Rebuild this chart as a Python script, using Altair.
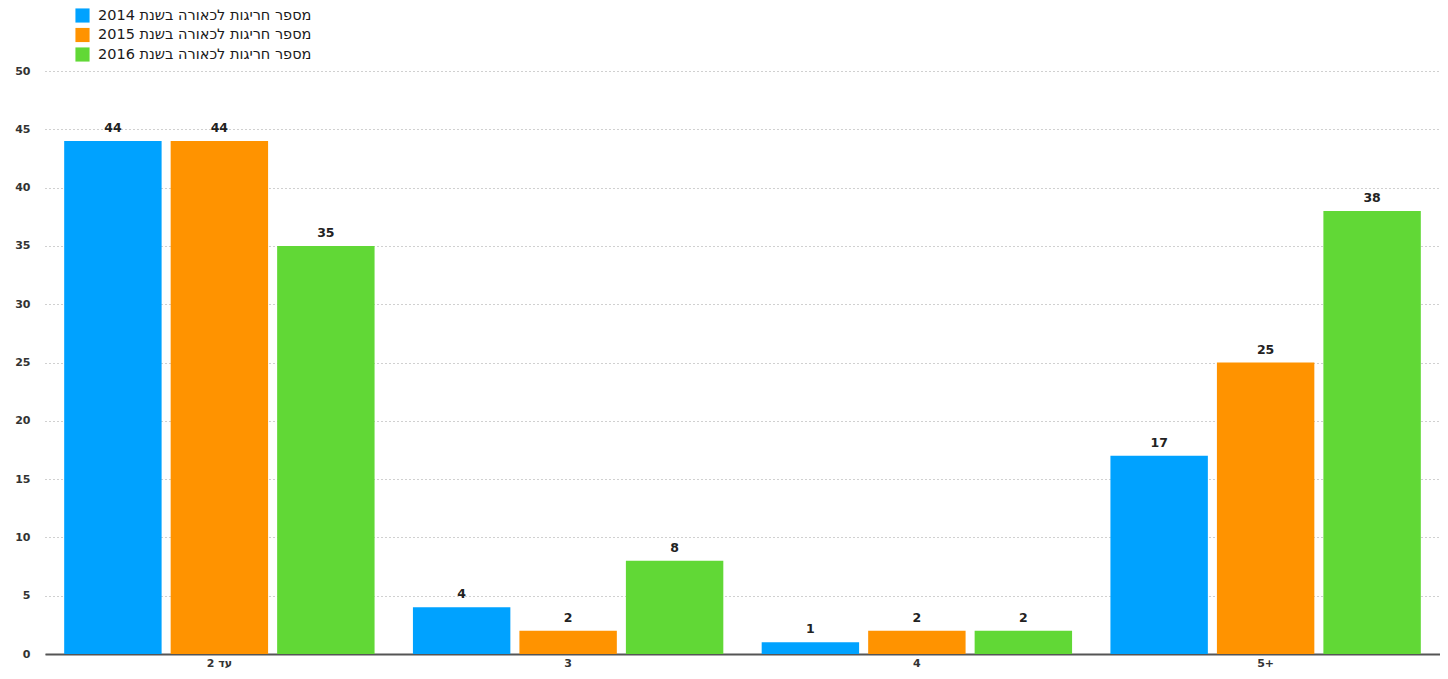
import altair as alt
import pandas as pd

categories = ["עד 2", "3", "4", "5+"]
series = ["מספר חריגות לכאורה בשנת 2014", "מספר חריגות לכאורה בשנת 2015", "מספר חריגות לכאורה בשנת 2016"]
values_2014 = [44, 4, 1, 17]
values_2015 = [44, 2, 2, 25]
values_2016 = [35, 8, 2, 38]
colors = ["#00A2FF", "#FF9300", "#61D836"]

rows = []
for s, vals in zip(series, [values_2014, values_2015, values_2016]):
    for c, v in zip(categories, vals):
        rows.append({"category": c, "series": s, "value": v})
df = pd.DataFrame(rows)

FONT = "'DejaVu Sans', sans-serif"

x = alt.X("category:N", sort=categories, title=None,
          scale=alt.Scale(paddingInner=0.11, paddingOuter=0.055),
          axis=alt.Axis(labelAngle=0, ticks=False, domainColor="#555555", domainWidth=2,
                        labelFontSize=11, labelFontWeight="bold", labelColor="#333333",
                        labelPadding=3, labelFont=FONT, grid=False))
xo = alt.XOffset("series:N", sort=series,
                 scale=alt.Scale(paddingInner=0.085, paddingOuter=0))
y = alt.Y("value:Q", title=None,
          scale=alt.Scale(domain=[0, 50], nice=False),
          axis=alt.Axis(values=[0, 5, 10, 15, 20, 25, 30, 35, 40, 45, 50], domain=False, ticks=False,
                        labelFontSize=11, labelFontWeight="bold", labelColor="#333333",
                        labelPadding=15, labelFont=FONT,
                        gridColor="#a0a0a0", gridDash=[1, 3], gridWidth=1))

bars = alt.Chart(df).mark_bar().encode(
    x=x, xOffset=xo, y=y,
    color=alt.Color("series:N", sort=series,
                    scale=alt.Scale(domain=series, range=colors),
                    legend=alt.Legend(title=None, orient="none", legendX=30, legendY=-63,
                                      direction="vertical", symbolType="square", symbolSize=200,
                                      symbolStrokeWidth=0, symbolOpacity=1,
                                      labelFontSize=14.5, labelFontWeight="normal",
                                      labelColor="#1a1a1a", labelFont=FONT,
                                      labelOffset=8, rowPadding=3.5, padding=0, labelLimit=400)),
)

labels = alt.Chart(df).mark_text(baseline="bottom", dy=-6, fontSize=12.5, fontWeight="bold",
                                 color="#222222", font=FONT).encode(
    x=alt.X("category:N", sort=categories), xOffset=alt.XOffset("series:N", sort=series), y="value:Q",
    text="value:Q",
)

chart = (bars + labels).properties(
    width=1395, height=583,
    autosize=alt.AutoSizeParams(type="none"),
    padding={"left": 37, "top": 63, "right": 0, "bottom": 17},
).configure_view(stroke=None).configure_axis(grid=True)

chart.save("out.html", embed_options={"renderer": "svg", "actions": False})
